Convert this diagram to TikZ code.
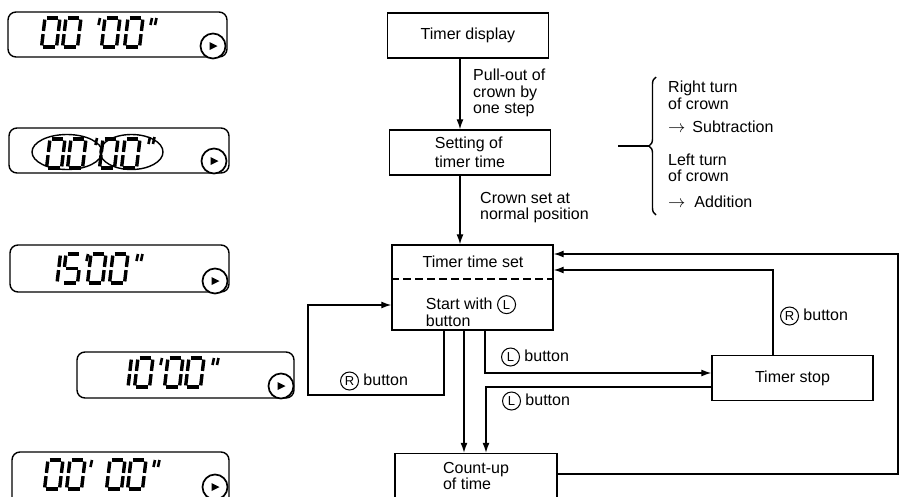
\documentclass[tikz,border=0pt]{standalone}
\usepackage{fontspec}
\setmainfont{Liberation Sans}
\usepackage{tikz}
\usetikzlibrary{arrows.meta,positioning,calc,decorations.pathreplacing}

% seven segment digits (segment ends p1..p6)
\def\segzero{1/2,2/4,4/6,5/6,3/5,1/3}
\def\segone{2/4,4/6}
\def\segfive{1/2,1/3,3/4,4/6,5/6}
\newcommand{\lcddig}[3]{%
  \begin{scope}[shift={(#1,#2)}, xslant=0.12]
    \coordinate (p1) at (0,0);
    \coordinate (p2) at (15,0);
    \coordinate (p3) at (0,14.5);
    \coordinate (p4) at (15,14.5);
    \coordinate (p5) at (0,29);
    \coordinate (p6) at (15,29);
    \foreach \u/\v in #3 {\draw[seg] (p\u) -- (p\v);}
  \end{scope}}
\newcommand{\lcdtick}[2]{\draw[tick] (#1,#2) -- ++(-1.5,7);}
\newcommand{\btn}[1]{\tikz[baseline=(b.base)]\node[draw, circle, line width=1pt, inner sep=0pt, minimum size=18pt, font=\fontsize{13}{13}\selectfont] (b) {#1};}

\begin{document}
\begin{tikzpicture}[x=1pt, y=-1pt,
    font=\fontsize{16}{16.5}\selectfont,
    box/.style={rectangle, draw, line width=1.4pt, minimum width=161pt, minimum height=45pt, inner sep=2pt},
    lbl/.style={align=left, inner sep=0pt},
    flow/.style={-{Latex[length=10pt,width=7pt]}, line width=1.3pt},
    lcd/.style={draw, rounded corners=8pt, line width=1.4pt},
    knob/.style={draw, fill=white, line width=1.7pt},
    seg/.style={line width=3.4pt, shorten <=1.6pt, shorten >=1.6pt},
    tick/.style={line width=2.6pt},
    split/.style={line width=1.4pt, dash pattern=on 8pt off 4pt}
]
    \useasboundingbox (0,0) rectangle (900,496);
    \clip (0,0) rectangle (900,496);

    % Displays
    \draw[lcd] (8,12) rectangle (227,57);
    \lcddig{45}{18}{\segzero} \lcddig{66}{18}{\segzero}
    \lcdtick{100}{18}
    \lcddig{105}{18}{\segzero} \lcddig{128}{18}{\segzero}
    \lcdtick{152}{18} \lcdtick{156.5}{18}
    \draw[knob] (213,46) circle[radius=12.5];
    \fill (209.5,42) -- (217.5,46) -- (209.5,50) -- cycle;

    \draw[lcd] (9,128) rectangle (229,173);
    \lcddig{50}{139}{\segzero} \lcddig{71}{139}{\segzero}
    \lcdtick{97}{138}
    \lcddig{103}{139}{\segzero} \lcddig{125}{139}{\segzero}
    \lcdtick{150}{137} \lcdtick{154.5}{137}
    \draw[line width=1.4pt] (67,152) ellipse[x radius=35, y radius=17.5];
    \draw[line width=1.4pt] (131.5,152) ellipse[x radius=31.5, y radius=17.5];
    \draw[knob] (214,161) circle[radius=12.5];
    \fill (210.5,157) -- (218.5,161) -- (210.5,165) -- cycle;

    \draw[lcd] (10,245) rectangle (229,292);
    \lcddig{45.5}{254}{\segone} \lcddig{66}{254}{\segfive}
    \lcdtick{88}{254}
    \lcddig{91}{254}{\segzero} \lcddig{113}{254}{\segzero}
    \lcdtick{138}{254} \lcdtick{142.5}{254}
    \draw[knob] (215,281) circle[radius=12.5];
    \fill (211.5,277) -- (219.5,281) -- (211.5,285) -- cycle;

    \draw[lcd] (77,352) rectangle (294,398);
    \lcddig{116.5}{358}{\segone} \lcddig{138}{358}{\segzero}
    \lcdtick{162}{358}
    \lcddig{168}{358}{\segzero} \lcddig{189}{358}{\segzero}
    \lcdtick{214}{358} \lcdtick{218.5}{358}
    \draw[knob] (281,386) circle[radius=12.5];
    \fill (277.5,382) -- (285.5,386) -- (277.5,390) -- cycle;

    \draw[lcd] (12,452) rectangle (229,512);
    \lcddig{48}{460}{\segzero} \lcddig{70}{460}{\segzero}
    \lcdtick{92}{460}
    \lcddig{110}{460}{\segzero} \lcddig{131}{460}{\segzero}
    \lcdtick{155}{460} \lcdtick{159.5}{460}
    \draw[knob] (215,487) circle[radius=12.5];
    \fill (211.5,483) -- (219.5,487) -- (211.5,491) -- cycle;

    % Flow boxes
    \node[box] (tdisp) at (468,35.5) {Timer display};
    \node[box, align=left] (setting) at (470,152.5) {Setting of\\[3pt]timer time};
    \node[box, minimum height=85pt] (tset) at (472.5,287.5) {};
    \node (tsettitle) at (473,262) {Timer time set};
    \node[align=left] (tsetstart) at (471,311) {Start with \btn{L}\\button};
    \node[box] (tstop) at (792.5,378) {Timer stop};
    \node[box, minimum width=162pt, align=left] (countup) at (476,476) {Count-up\\of time};

    \coordinate (tsetsplit) at (0,279);
    \draw[split] (tset.west |- tsetsplit) -- (tset.east |- tsetsplit);

    % Main column
    \coordinate (spine) at (460,0);
    \draw[flow] (tdisp.south -| spine) -- (setting.north -| spine);
    \draw[flow] (setting.south -| spine) -- (tset.north -| spine);
    \node[lbl, anchor=north west] (pull) at (473,69) {Pull-out of\\crown by\\one step};
    \node[lbl, anchor=north west] (crownset) at (480,192) {Crown set at\\normal position};

    % Crown turning
    \coordinate (brstem) at (618,146);
    \coordinate (brtip) at (649,146);
    \draw[decorate, decoration={brace, amplitude=7pt}, line width=1.4pt] (656,215) -- (656,77);
    \draw[line width=1.3pt] (brstem) -- (brtip);
    \node[lbl, anchor=north west] (turns) at (668,81) {Right turn\\of crown\\[7pt]$\rightarrow$\hspace{7pt}Subtraction\\[16pt]Left turn\\of crown\\[9pt]$\rightarrow$\hspace{9pt}Addition};

    % Button loops
    \coordinate (rloop) at (308,395);
    \draw[flow] ([xshift=-28.5pt]tset.south) |- (rloop) |- ([yshift=-17.5pt]tset.west);
    \node[lbl] (rbtn1) at (374,381) {\btn{R} button};

    \draw[flow] ([xshift=-8.5pt]tset.south) -- ([xshift=-8.5pt]tset.south |- countup.north);

    \draw[flow] ([xshift=12.5pt]tset.south) |- ([yshift=5pt]tstop.west);
    \node[lbl] (lbtn1) at (535,357) {\btn{L} button};

    \draw[flow] ([yshift=-9pt]tstop.west) -| ([xshift=10pt]countup.north);
    \node[lbl] (lbtn2) at (536,401) {\btn{L} button};

    \draw[flow] ([xshift=-19.5pt]tstop.north) |- ([yshift=17.5pt]tset.east);
    \node[lbl] (rbtn2) at (814,316) {\btn{R} button};

    \coordinate (outer) at (898,254);
    \draw[flow] ([yshift=2pt]countup.east) -| (outer) -- ([yshift=33.5pt]tset.east);
\end{tikzpicture}
\end{document}
